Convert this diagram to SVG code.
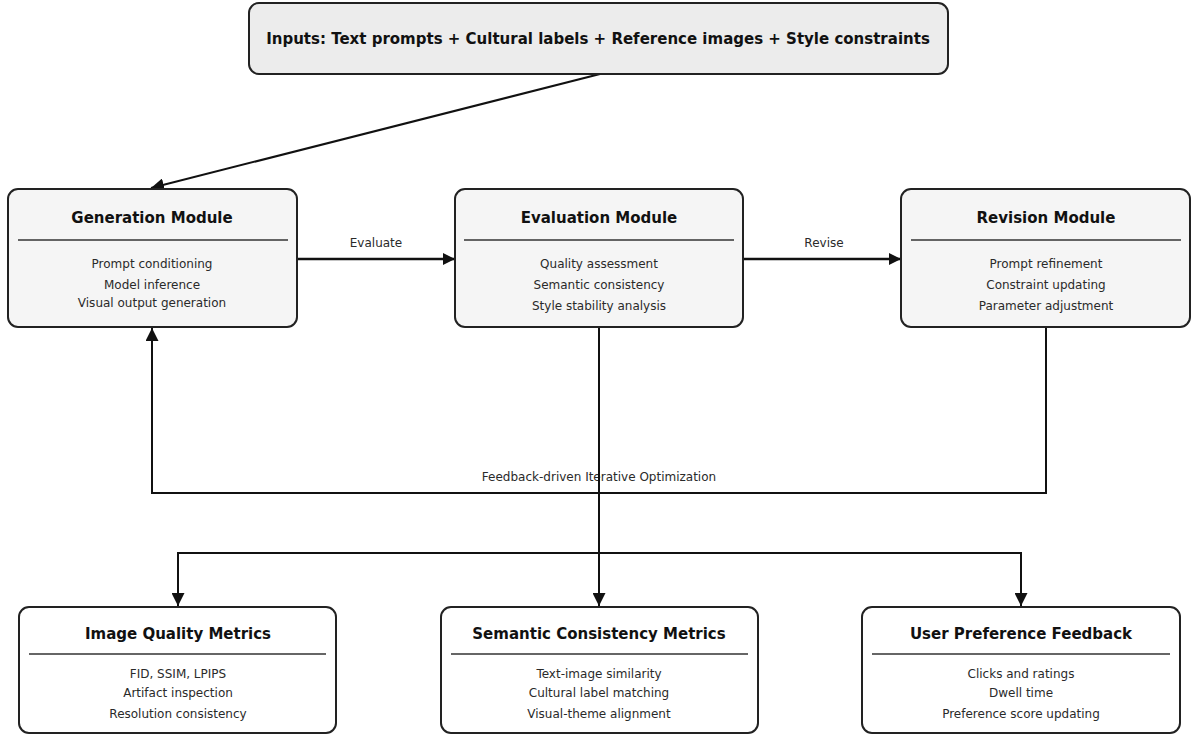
<svg xmlns="http://www.w3.org/2000/svg" width="1192" height="735" viewBox="0 0 1192 735">
<defs>
<style>
.box{fill:#f5f5f5;stroke:#222;stroke-width:2}
.mbox{fill:#ffffff;stroke:#222;stroke-width:2}
.ibox{fill:#ececec;stroke:#222;stroke-width:2}
.title{font-family:"DejaVu Sans",sans-serif;font-weight:bold;font-size:15px;fill:#111;text-anchor:middle}
.body{font-family:"DejaVu Sans",sans-serif;font-size:12px;fill:#2a2a2a;text-anchor:middle}
.lbl{font-family:"DejaVu Sans",sans-serif;font-size:12px;fill:#2a2a2a;text-anchor:middle}
.div{stroke:#333;stroke-width:1.3}
.conn{fill:none;stroke:#111;stroke-width:2.5}
.thin{fill:none;stroke:#111;stroke-width:2}
</style>
<marker id="ah" viewBox="0 0 10 10" refX="10" refY="5" markerWidth="5" markerHeight="5" markerUnits="strokeWidth" orient="auto">
<path d="M0,0 L10,5 L0,10 z" fill="#111"/>
</marker>
<marker id="ah2" viewBox="0 0 10 10" refX="10" refY="5" markerWidth="6.5" markerHeight="6.5" markerUnits="strokeWidth" orient="auto">
<path d="M0,0 L10,5 L0,10 z" fill="#111"/>
</marker>
</defs>
<rect width="1192" height="735" fill="#ffffff"/>

<g id="connectors">
<line class="thin" x1="600" y1="74" x2="151" y2="188" marker-end="url(#ah2)"/>
<line class="conn" x1="297" y1="259" x2="455" y2="259" marker-end="url(#ah)"/>
<text class="lbl" x="376" y="247">Evaluate</text>
<line class="conn" x1="743" y1="259" x2="901" y2="259" marker-end="url(#ah)"/>
<text class="lbl" x="824" y="247">Revise</text>
<polyline class="thin" points="1046,327 1046,493 152,493 152,328" marker-end="url(#ah2)"/>
<text class="lbl" x="599" y="481">Feedback-driven Iterative Optimization</text>
<line class="thin" x1="599" y1="327" x2="599" y2="606" marker-end="url(#ah2)"/>
<polyline class="thin" points="178,553 1021,553 1021,606" marker-end="url(#ah2)"/>
<line class="thin" x1="178" y1="552" x2="178" y2="606" marker-end="url(#ah2)"/>
</g>

<g id="inputs">
<rect class="ibox" x="249" y="3" width="699" height="71" rx="10"/>
<text class="title" x="598" y="44">Inputs: Text prompts + Cultural labels + Reference images + Style constraints</text>
</g>

<g id="generation">
<rect class="box" x="8" y="189" width="289" height="138" rx="10"/>
<text class="title" x="152" y="223">Generation Module</text>
<line class="div" x1="18" y1="240" x2="288" y2="240"/>
<text class="body" x="152" y="268">Prompt conditioning</text>
<text class="body" x="152" y="289">Model inference</text>
<text class="body" x="152" y="307">Visual output generation</text>
</g>

<g id="evaluation">
<rect class="box" x="455" y="189" width="288" height="138" rx="10"/>
<text class="title" x="599" y="223">Evaluation Module</text>
<line class="div" x1="464" y1="240" x2="734" y2="240"/>
<text class="body" x="599" y="268">Quality assessment</text>
<text class="body" x="599" y="289">Semantic consistency</text>
<text class="body" x="599" y="310">Style stability analysis</text>
</g>

<g id="revision">
<rect class="box" x="901" y="189" width="289" height="138" rx="10"/>
<text class="title" x="1046" y="223">Revision Module</text>
<line class="div" x1="911" y1="240" x2="1181" y2="240"/>
<text class="body" x="1046" y="268">Prompt refinement</text>
<text class="body" x="1046" y="289">Constraint updating</text>
<text class="body" x="1046" y="310">Parameter adjustment</text>
</g>

<g id="image-quality">
<rect class="mbox" x="19" y="607" width="317" height="126" rx="10"/>
<text class="title" x="178" y="639">Image Quality Metrics</text>
<line class="div" x1="29" y1="654" x2="326" y2="654"/>
<text class="body" x="178" y="678">FID, SSIM, LPIPS</text>
<text class="body" x="178" y="697">Artifact inspection</text>
<text class="body" x="178" y="718">Resolution consistency</text>
</g>

<g id="semantic-consistency">
<rect class="mbox" x="441" y="607" width="317" height="126" rx="10"/>
<text class="title" x="599" y="639">Semantic Consistency Metrics</text>
<line class="div" x1="451" y1="654" x2="748" y2="654"/>
<text class="body" x="599" y="678">Text-image similarity</text>
<text class="body" x="599" y="697">Cultural label matching</text>
<text class="body" x="599" y="718">Visual-theme alignment</text>
</g>

<g id="user-preference">
<rect class="mbox" x="862" y="607" width="318" height="126" rx="10"/>
<text class="title" x="1021" y="639">User Preference Feedback</text>
<line class="div" x1="872" y1="654" x2="1170" y2="654"/>
<text class="body" x="1021" y="678">Clicks and ratings</text>
<text class="body" x="1021" y="697">Dwell time</text>
<text class="body" x="1021" y="718">Preference score updating</text>
</g>
</svg>
